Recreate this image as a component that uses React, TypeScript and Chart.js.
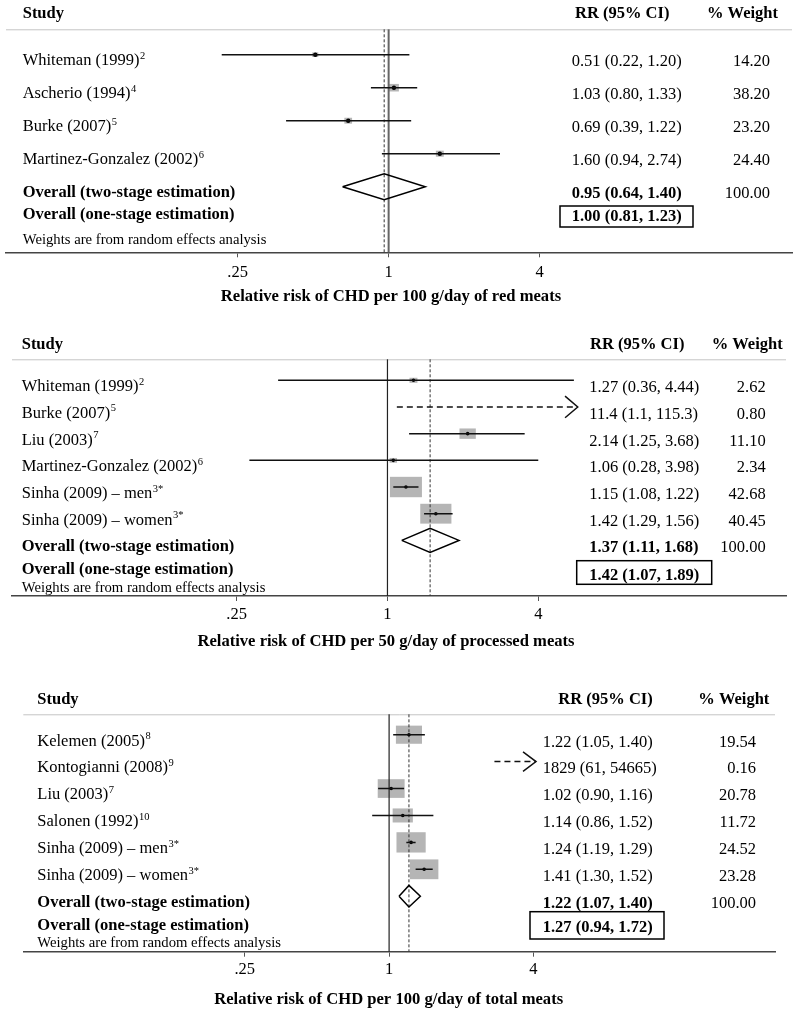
import React, { useEffect, useRef } from "react";
import { Chart, registerables } from "chart.js";

Chart.register(...registerables);

const SERIF = "'Liberation Serif', 'Times New Roman', Times, serif";

// ---------- shared axis / header text ----------
const tickValues = [0.25, 1, 4];
const tickLabels = [".25", "1", "4"];
const headerStudy = "Study";
const headerRR = "RR (95% CI)";
const headerWeight = "% Weight";
const overallTwoLabel = "Overall (two-stage estimation)";
const overallOneLabel = "Overall (one-stage estimation)";
const noteLabel = "Weights are from random effects analysis";

// ---------- Panel 1: red meats ----------
const redStudies = ["Whiteman (1999)", "Ascherio (1994)", "Burke (2007)", "Martinez-Gonzalez (2002)"];
const redRefs = ["2", "4", "5", "6"];
const redEst = [0.51, 1.05, 0.69, 1.6];
const redLow = [0.216, 0.85, 0.39, 0.94];
const redHigh = [1.21, 1.3, 1.23, 2.78];
const redArrow = [false, false, false, false];
const redWeight = [14.2, 38.2, 23.2, 24.4];
const redRRText = ["0.51 (0.22, 1.20)", "1.03 (0.80, 1.33)", "0.69 (0.39, 1.22)", "1.60 (0.94, 2.74)"];
const redWeightText = ["14.20", "38.20", "23.20", "24.40"];
const redOverallEst = 0.96;
const redOverallLow = 0.655;
const redOverallHigh = 1.4;
const redOverallText = "0.95 (0.64, 1.40)";
const redOverallWeight = "100.00";
const redOneStageText = "1.00 (0.81, 1.23)";
const redTitle = "Relative risk of CHD per 100 g/day of red meats";

// ---------- Panel 2: processed meats ----------
const procStudies = [
  "Whiteman (1999)",
  "Burke (2007)",
  "Liu (2003)",
  "Martinez-Gonzalez (2002)",
  "Sinha (2009) \u2013 men",
  "Sinha (2009) \u2013 women",
];
const procRefs = ["2", "5", "7", "6", "3*", "3*"];
const procEst = [1.27, null, 2.09, 1.055, 1.185, 1.56];
const procLow = [0.366, 1.09, 1.22, 0.281, 1.055, 1.4];
const procHigh = [5.55, 5.75, 3.53, 4.0, 1.33, 1.82];
const procArrow = [false, true, false, false, false, false];
const procWeight = [2.62, 0.8, 11.1, 2.34, 42.68, 40.45];
const procRRText = [
  "1.27 (0.36, 4.44)",
  "11.4 (1.1, 115.3)",
  "2.14 (1.25, 3.68)",
  "1.06 (0.28, 3.98)",
  "1.15 (1.08, 1.22)",
  "1.42 (1.29, 1.56)",
];
const procWeightText = ["2.62", "0.80", "11.10", "2.34", "42.68", "40.45"];
const procOverallEst = 1.48;
const procOverallLow = 1.14;
const procOverallHigh = 1.93;
const procOverallText = "1.37 (1.11, 1.68)";
const procOverallWeight = "100.00";
const procOneStageText = "1.42 (1.07, 1.89)";
const procTitle = "Relative risk of CHD per 50 g/day of processed meats";

// ---------- Panel 3: total meats ----------
const totStudies = [
  "Kelemen (2005)",
  "Kontogianni (2008)",
  "Liu (2003)",
  "Salonen (1992)",
  "Sinha (2009) \u2013 men",
  "Sinha (2009) \u2013 women",
];
const totRefs = ["8", "9", "7", "10", "3*", "3*"];
const totEst = [1.21, null, 1.02, 1.14, 1.235, 1.4];
const totLow = [1.04, 2.75, 0.9, 0.85, 1.18, 1.29];
const totHigh = [1.41, 4.1, 1.155, 1.53, 1.29, 1.52];
const totArrow = [false, true, false, false, false, false];
const totWeight = [19.54, 0.16, 20.78, 11.72, 24.52, 23.28];
const totRRText = [
  "1.22 (1.05, 1.40)",
  "1829 (61, 54665)",
  "1.02 (0.90, 1.16)",
  "1.14 (0.86, 1.52)",
  "1.24 (1.19, 1.29)",
  "1.41 (1.30, 1.52)",
];
const totWeightText = ["19.54", "0.16", "20.78", "11.72", "24.52", "23.28"];
const totOverallEst = 1.21;
const totOverallLow = 1.1;
const totOverallHigh = 1.35;
const totOverallText = "1.22 (1.07, 1.40)";
const totOverallWeight = "100.00";
const totOneStageText = "1.27 (0.94, 1.72)";
const totTitle = "Relative risk of CHD per 100 g/day of total meats";

// ---------- layout (positions / styles only) ----------
const layouts = [
  {
    top: 0, height: 312, left: 6, right: 792, xMin: 0.0298, xMax: 40.6,
    headerLineY: 29.3, axisY: 252.3, row0: 54.7, rowStep: 33, textOffset: 10.5, rightOffset: 1.2,
    headerY: 17.5, studyX: 22.7, rrX: 571.7, rrHeaderX: 575, wRight: 770, wHeaderRight: 778,
    oneLeftY: 219, oneRightY: 220.7, noteY: 244.3,
    osX: 560, osY: 206, osW: 133, osH: 21,
    titleX: 391, titleY: 296.5, diamondHalf: 13, boxKx: 1.6, boxKy: 1.22, dotR: 2.2,
    nullColor: "#666", nullWidth: 2, arrowDx: 12.7, arrowDy: 10.8, tickPad: 5,
  },
  {
    top: 320, height: 336, left: 12, right: 786, xMin: 0.0317, xMax: 39.0,
    headerLineY: 359.3, axisY: 596, row0: 380.3, rowStep: 26.68, textOffset: 11, rightOffset: 1,
    headerY: 348.5, studyX: 21.7, rrX: 589.3, rrHeaderX: 590, wRight: 765.7, wHeaderRight: 782.7,
    oneLeftY: 574, oneRightY: 580, noteY: 591.7,
    osX: 576.7, osY: 560.7, osW: 135, osH: 23.6,
    titleX: 386, titleY: 642, diamondHalf: 12, boxKx: 4.9, boxKy: 3.12, dotR: 1.8,
    nullColor: "#222", nullWidth: 1.2, arrowDx: 12.7, arrowDy: 10.8, tickPad: 4,
  },
  {
    top: 680, height: 335, left: 23.3, right: 775, xMin: 0.0298, xMax: 40.7,
    headerLineY: 714.3, axisY: 951.7, row0: 734.7, rowStep: 26.92, textOffset: 10.8, rightOffset: 1,
    headerY: 704, studyX: 37.3, rrX: 542.7, rrHeaderX: 558.3, wRight: 756, wHeaderRight: 769.3,
    oneLeftY: 930, oneRightY: 932.3, noteY: 946.7,
    osX: 530, osY: 911.7, osW: 134, osH: 27.3,
    titleX: 388.7, titleY: 999.5, diamondHalf: 10.8, boxKx: 5.9, boxKy: 4.1, dotR: 1.8,
    nullColor: "#222", nullWidth: 1.2, arrowDx: 13, arrowDy: 9.7, tickPad: 3.5,
  },
];

const panelData = [
  {
    studies: redStudies, refs: redRefs, est: redEst, low: redLow, high: redHigh, arrow: redArrow,
    weight: redWeight, rrText: redRRText, weightText: redWeightText,
    overallEst: redOverallEst, overallLow: redOverallLow, overallHigh: redOverallHigh,
    overallText: redOverallText, overallWeight: redOverallWeight, oneStageText: redOneStageText, title: redTitle,
  },
  {
    studies: procStudies, refs: procRefs, est: procEst, low: procLow, high: procHigh, arrow: procArrow,
    weight: procWeight, rrText: procRRText, weightText: procWeightText,
    overallEst: procOverallEst, overallLow: procOverallLow, overallHigh: procOverallHigh,
    overallText: procOverallText, overallWeight: procOverallWeight, oneStageText: procOneStageText, title: procTitle,
  },
  {
    studies: totStudies, refs: totRefs, est: totEst, low: totLow, high: totHigh, arrow: totArrow,
    weight: totWeight, rrText: totRRText, weightText: totWeightText,
    overallEst: totOverallEst, overallLow: totOverallLow, overallHigh: totOverallHigh,
    overallText: totOverallText, overallWeight: totOverallWeight, oneStageText: totOneStageText, title: totTitle,
  },
];

const FS = 16.5;
const REG = `${FS}px ${SERIF}`;
const BOLD = `bold ${FS}px ${SERIF}`;
const SUP = `10.5px ${SERIF}`;
const NOTE = `14.7px ${SERIF}`;
const TITLE = `bold 16.6px ${SERIF}`;

function buildConfig(d: any, L: any): any {
  const n = d.studies.length;
  const datasets: any[] = [];
  for (let i = 0; i < n; i++) {
    datasets.push({
      label: "ci" + i,
      data: [
        { x: d.low[i], y: i },
        { x: d.high[i], y: i },
      ],
      showLine: true,
      borderColor: "#111",
      borderWidth: 1.5,
      borderDash: d.arrow[i] ? [6, 4] : [],
      pointRadius: 0,
      pointHoverRadius: 0,
    });
  }
  const pts: any[] = [];
  for (let i = 0; i < n; i++) {
    if (d.est[i] != null) pts.push({ x: d.est[i], y: i });
  }
  datasets.push({
    label: "estimates",
    data: pts,
    showLine: false,
    pointRadius: L.dotR,
    pointHoverRadius: L.dotR,
    backgroundColor: "#000",
    pointBackgroundColor: "#000",
    pointBorderWidth: 0,
    borderWidth: 0,
  });
  const h = L.diamondHalf / L.rowStep;
  datasets.push({
    label: "overall",
    data: [
      { x: d.overallLow, y: n },
      { x: d.overallEst, y: n - h },
      { x: d.overallHigh, y: n },
      { x: d.overallEst, y: n + h },
      { x: d.overallLow, y: n },
    ],
    showLine: true,
    borderColor: "#000",
    borderWidth: 1.5,
    borderJoinStyle: "miter",
    pointRadius: 0,
    pointHoverRadius: 0,
    fill: false,
    tension: 0,
  });

  const T = (pageY: number) => pageY - L.top;

  const plugin = {
    id: "forest",
    beforeDatasetsDraw(chart: any) {
      const { ctx, chartArea: a } = chart;
      const xs = chart.scales.x;
      const ys = chart.scales.y;
      ctx.save();
      // header rule
      ctx.strokeStyle = "#c4c4c4";
      ctx.lineWidth = 1;
      ctx.setLineDash([]);
      ctx.beginPath();
      ctx.moveTo(a.left, a.top + 0.5);
      ctx.lineTo(a.right, a.top + 0.5);
      ctx.stroke();
      // weight boxes
      ctx.fillStyle = "#b5b5b5";
      for (let i = 0; i < n; i++) {
        if (d.est[i] == null) continue;
        const s = Math.sqrt(d.weight[i]);
        const w = s * L.boxKx;
        const hh = s * L.boxKy;
        const px = xs.getPixelForValue(d.est[i]);
        const py = ys.getPixelForValue(i);
        ctx.fillRect(px - w / 2, py - hh / 2, w, hh);
      }
      // null line
      const x1 = xs.getPixelForValue(1);
      ctx.strokeStyle = L.nullColor;
      ctx.lineWidth = L.nullWidth;
      ctx.beginPath();
      ctx.moveTo(x1, a.top);
      ctx.lineTo(x1, a.bottom);
      ctx.stroke();
      // overall estimate dashed line
      const xo = xs.getPixelForValue(d.overallEst);
      ctx.strokeStyle = "#333";
      ctx.lineWidth = 1;
      ctx.setLineDash([3, 2]);
      ctx.beginPath();
      ctx.moveTo(xo, a.top);
      ctx.lineTo(xo, a.bottom);
      ctx.stroke();
      ctx.restore();
    },
    afterDatasetsDraw(chart: any) {
      const { ctx } = chart;
      const xs = chart.scales.x;
      const ys = chart.scales.y;
      ctx.save();
      ctx.strokeStyle = "#111";
      ctx.lineWidth = 1.5;
      ctx.setLineDash([]);
      for (let i = 0; i < n; i++) {
        if (!d.arrow[i]) continue;
        const tx = xs.getPixelForValue(d.high[i]);
        const ty = ys.getPixelForValue(i);
        ctx.beginPath();
        ctx.moveTo(tx - L.arrowDx, ty - L.arrowDy);
        ctx.lineTo(tx, ty);
        ctx.lineTo(tx - L.arrowDx, ty + L.arrowDy);
        ctx.stroke();
      }
      ctx.restore();
    },
    afterDraw(chart: any) {
      const { ctx } = chart;
      const ys = chart.scales.y;
      ctx.save();
      ctx.fillStyle = "#000";
      ctx.textBaseline = "alphabetic";
      // headers
      ctx.font = BOLD;
      ctx.textAlign = "left";
      ctx.fillText(headerStudy, L.studyX, T(L.headerY));
      ctx.fillText(headerRR, L.rrHeaderX, T(L.headerY));
      ctx.textAlign = "right";
      ctx.fillText(headerWeight, L.wHeaderRight, T(L.headerY));
      // study rows
      for (let i = 0; i < n; i++) {
        const by = ys.getPixelForValue(i) + L.textOffset;
        ctx.textAlign = "left";
        ctx.font = REG;
        ctx.fillText(d.studies[i], L.studyX, by);
        const w = ctx.measureText(d.studies[i]).width;
        ctx.font = SUP;
        ctx.fillText(d.refs[i], L.studyX + w + 0.5, by - 6.5);
        ctx.font = REG;
        ctx.fillText(d.rrText[i], L.rrX, by + L.rightOffset);
        ctx.textAlign = "right";
        ctx.fillText(d.weightText[i], L.wRight, by + L.rightOffset);
      }
      // overall two-stage
      const oy = ys.getPixelForValue(n) + L.textOffset;
      ctx.textAlign = "left";
      ctx.font = BOLD;
      ctx.fillText(overallTwoLabel, L.studyX, oy);
      ctx.fillText(d.overallText, L.rrX, oy + L.rightOffset);
      ctx.font = REG;
      ctx.textAlign = "right";
      ctx.fillText(d.overallWeight, L.wRight, oy + L.rightOffset);
      // overall one-stage
      ctx.textAlign = "left";
      ctx.font = BOLD;
      ctx.fillText(overallOneLabel, L.studyX, T(L.oneLeftY));
      ctx.fillText(d.oneStageText, L.rrX, T(L.oneRightY));
      ctx.strokeStyle = "#000";
      ctx.lineWidth = 1.5;
      ctx.strokeRect(L.osX, T(L.osY), L.osW, L.osH);
      // note
      ctx.font = NOTE;
      ctx.fillText(noteLabel, L.studyX, T(L.noteY));
      // axis title
      ctx.font = TITLE;
      ctx.textAlign = "center";
      ctx.textBaseline = "middle";
      ctx.fillText(d.title, L.titleX, T(L.titleY));
      ctx.restore();
    },
  };

  return {
    type: "scatter",
    data: { datasets },
    options: {
      animation: false,
      responsive: false,
      maintainAspectRatio: false,
      events: [],
      layout: {
        padding: { left: L.left, right: 800 - L.right, top: L.headerLineY - L.top, bottom: 0 },
      },
      plugins: { legend: { display: false }, tooltip: { enabled: false }, title: { display: false } },
      scales: {
        x: {
          type: "logarithmic",
          position: "bottom",
          min: L.xMin,
          max: L.xMax,
          afterBuildTicks: (scale: any) => {
            scale.ticks = tickValues.map((v) => ({ value: v }));
          },
          afterFit: (scale: any) => {
            scale.height = L.height - (L.axisY - L.top);
          },
          ticks: {
            autoSkip: false,
            maxRotation: 0,
            minRotation: 0,
            padding: L.tickPad,
            color: "#000",
            font: { family: SERIF, size: FS },
            callback: (_v: any, i: number) => tickLabels[i],
          },
          grid: { display: true, drawOnChartArea: false, drawTicks: true, tickLength: 5, color: "#555", lineWidth: 1 },
          border: { display: true, color: "#444", width: 1.5 },
          title: { display: false },
        },
        y: {
          type: "linear",
          display: false,
          reverse: true,
          min: (L.headerLineY - L.row0) / L.rowStep,
          max: (L.axisY - L.row0) / L.rowStep,
        },
      },
    },
    plugins: [plugin],
  };
}

function ForestPanel({ index }: { index: number }) {
  const ref = useRef<HTMLCanvasElement | null>(null);
  const L = layouts[index];
  useEffect(() => {
    if (!ref.current) return;
    const chart = new Chart(ref.current, buildConfig(panelData[index], L));
    return () => chart.destroy();
  }, [index]);
  return (
    <canvas
      ref={ref}
      width={800}
      height={L.height}
      style={{ position: "absolute", left: 0, top: L.top, width: 800, height: L.height, display: "block" }}
    />
  );
}

export default function App() {
  return (
    <div style={{ position: "absolute", left: 0, top: 0, width: 800, height: 1015, background: "#fff", overflow: "hidden" }}>
      <ForestPanel index={0} />
      <ForestPanel index={1} />
      <ForestPanel index={2} />
    </div>
  );
}
